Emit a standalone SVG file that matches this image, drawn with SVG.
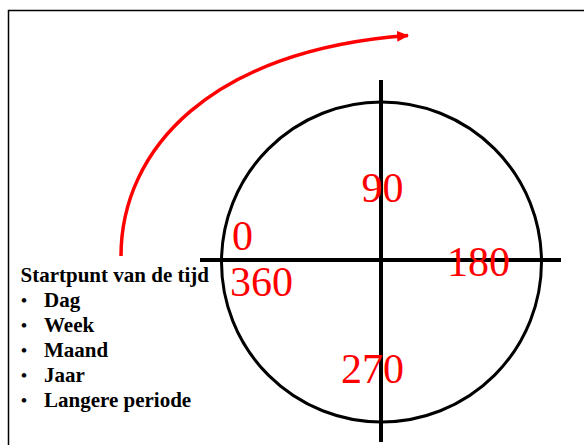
<svg xmlns="http://www.w3.org/2000/svg" width="584" height="445" viewBox="0 0 584 445">
<style>
.num{font-family:"Liberation Serif","Times New Roman",serif;font-size:42px;fill:#ff0000}
.lbl{font-family:"Liberation Serif","Times New Roman",serif;font-size:21px;font-weight:bold;fill:#000}
.bul{font-family:"Liberation Serif","Times New Roman",serif;font-size:17px;font-weight:bold;fill:#000}
.axis{stroke:#000;stroke-width:4;fill:none}
</style>
<defs>
<marker id="ah" markerWidth="12" markerHeight="11" refX="11" refY="5.5" orient="auto" markerUnits="userSpaceOnUse">
<path d="M0,0 L12,5.5 L0,11 Z" fill="#ff0000"/>
</marker>
</defs>
<rect x="0" y="0" width="584" height="445" fill="#fff"/>
<rect x="8.5" y="10.5" width="600" height="500" fill="none" stroke="#000" stroke-width="1.5"/>
<g id="circle">
<circle cx="381.5" cy="262" r="160" fill="none" stroke="#000" stroke-width="3"/>
</g>
<g id="connectors">
<line class="axis" x1="200" y1="260" x2="561" y2="260"/>
<line class="axis" x1="381" y1="80" x2="381" y2="442"/>
<path d="M121,256 C121,150 210,50 408,35.5" fill="none" stroke="#ff0000" stroke-width="3.5" marker-end="url(#ah)"/>
</g>
<g id="labels">
<text class="num" x="232" y="250">0</text>
<text class="num" x="230" y="296">360</text>
<text class="num" x="361.5" y="202">90</text>
<text class="num" x="447" y="276">180</text>
<text class="num" x="341" y="383">270</text>
</g>
<g id="legend">
<text class="lbl" x="20.5" y="281.5">Startpunt van de tijd</text>
<g class="bul">
<text x="21" y="306">•</text>
<text x="21" y="331">•</text>
<text x="21" y="356">•</text>
<text x="21" y="381">•</text>
<text x="21" y="406">•</text>
</g>
<g class="lbl">
<text x="44" y="307">Dag</text>
<text x="44" y="332">Week</text>
<text x="44" y="357">Maand</text>
<text x="44" y="382">Jaar</text>
<text x="44" y="407">Langere periode</text>
</g>
</g>
</svg>
